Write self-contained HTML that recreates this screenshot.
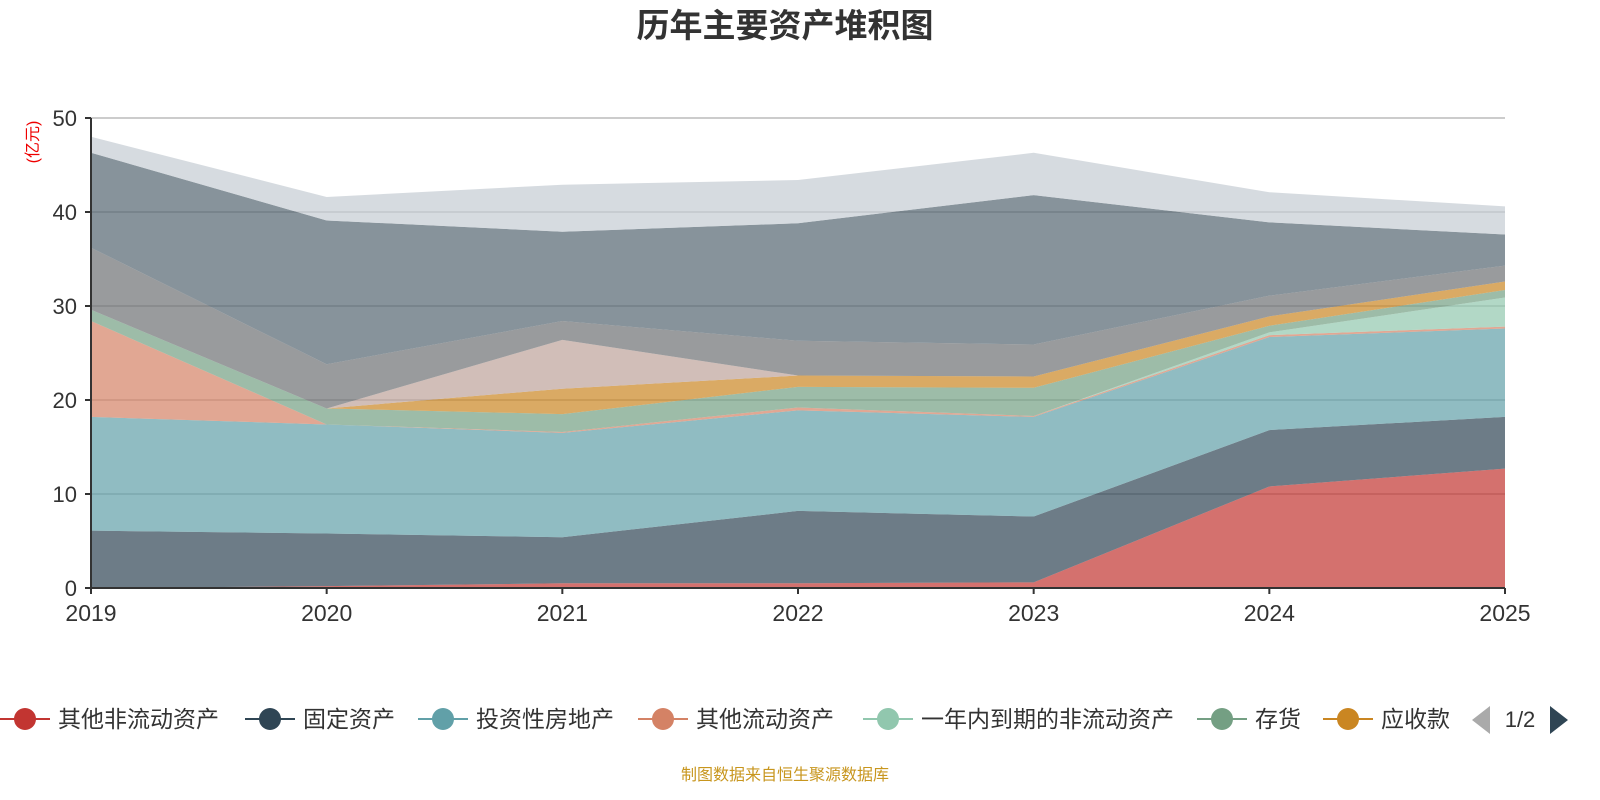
<!DOCTYPE html>
<html><head><meta charset="utf-8"><style>
html,body{margin:0;padding:0;background:#fff;width:1600px;height:800px;overflow:hidden}
svg text{font-family:"Liberation Sans","Noto Sans CJK SC",sans-serif}
</style></head><body>
<svg id="chart" width="1600" height="800">
<text x="785" y="37" text-anchor="middle" font-size="33" font-weight="bold" fill="#333">历年主要资产堆积图</text>
<text x="0" y="0" transform="translate(38,142) rotate(-90)" text-anchor="middle" font-size="16" fill="#e00">(亿元)</text>
<g id="grid"></g>
<g id="areas"></g>
<g id="axes"></g>
<g id="legend"></g>
<text x="785" y="780" text-anchor="middle" font-size="16" fill="#c8961e">制图数据来自恒生聚源数据库</text>
</svg>
<script>
const years=["2019","2020","2021","2022","2023","2024","2025"];
const yTicks=[0,10,20,30,40,50];
const seriesNames=["其他非流动资产","固定资产","投资性房地产","其他流动资产","一年内到期的非流动资产","存货","应收款","其他资产A","其他资产B","其他资产C","其他资产D"];
const s0=[0,0.2,0.5,0.5,0.6,10.8,12.7];
const s1=[6.1,5.6,4.9,7.7,7.0,6.0,5.5];
const s2=[12.1,11.6,11.1,10.7,10.6,9.9,9.4];
const s3=[10.2,0,0.1,0.3,0.1,0.2,0.2];
const s4=[0,0,0,0,0,0.3,3.1];
const s5=[1.2,1.7,1.9,2.2,3.0,0.7,0.8];
const s6=[0,0,2.7,1.2,1.2,1.0,0.9];
const s7=[0,0,5.2,0,0,0,0];
const s8=[6.6,4.7,2.0,3.7,3.4,2.2,1.7];
const s9=[10.1,15.3,9.5,12.5,15.9,7.8,3.3];
const s10=[1.7,2.5,5.0,4.6,4.5,3.2,3.0];
const series=[s0,s1,s2,s3,s4,s5,s6,s7,s8,s9,s10];
const colors=["#c23531","#2f4554","#61a0a8","#d48265","#91c7ae","#749f83","#ca8622","#bda29a","#6e7074","#546570","#c4ccd3"];
const NS="http://www.w3.org/2000/svg";
const x0=91,x1=1505,yB=588,yT=118,yMax=50;
const xs=i=>x0+(x1-x0)*i/(years.length-1);
const ys=v=>yB-(yB-yT)*v/yMax;
function mk(tag,attrs,parent){const e=document.createElementNS(NS,tag);for(const k in attrs)e.setAttribute(k,attrs[k]);parent.appendChild(e);return e;}
const grid=document.getElementById('grid'),areas=document.getElementById('areas'),axes=document.getElementById('axes'),legend=document.getElementById('legend');
yTicks.forEach(t=>{
  if(t>0){const l=mk('line',{x1:x0,x2:x1,y1:ys(t),y2:ys(t),stroke:'#ccc','stroke-width':2},grid);
  
  }
  const tk=mk('line',{x1:x0-6,x2:x0,y1:ys(t),y2:ys(t),stroke:'#333','stroke-width':2},axes);
  
  
  const tx=mk('text',{x:x0-14,y:ys(t)+8,'text-anchor':'end','font-size':22,fill:'#333'},axes);
  tx.textContent=t;
  
  
});
let cum=years.map(()=>0);
series.forEach((s,k)=>{
  const lo=cum.slice();const hi=cum.map((c,i)=>c+s[i]);cum=hi;
  let d='M'+hi.map((v,i)=>xs(i)+','+ys(v)).join('L');
  for(let i=years.length-1;i>=0;i--)d+='L'+xs(i)+','+ys(lo[i]);
  const p=mk('path',{d:d+'Z',fill:colors[k],'fill-opacity':0.7,stroke:'none'},areas);
  
  
});
const ax=mk('line',{x1:x0,x2:x0,y1:yT,y2:yB,stroke:'#333','stroke-width':2},axes);


const bx=mk('line',{x1:x0,x2:x1,y1:yB,y2:yB,stroke:'#333','stroke-width':2},axes);


years.forEach((y,i)=>{
  const tk=mk('line',{x1:xs(i),x2:xs(i),y1:yB,y2:yB+6,stroke:'#333','stroke-width':2},axes);
  
  
  const tx=mk('text',{x:xs(i),y:621,'text-anchor':'middle','font-size':23,fill:'#333'},axes);
  tx.textContent=y;
  
  
});
const legX=[0,245,418,638,863,1197,1323];
legX.forEach((lx,k)=>{
  const g=mk('g',{},legend);
  
  
  mk('line',{x1:lx,x2:lx+50,y1:719,y2:719,stroke:colors[k],'stroke-width':2},g);
  mk('circle',{cx:lx+25,cy:719,r:11,fill:colors[k]},g);
  const t=mk('text',{x:lx+58,y:727,'font-size':23,fill:'#333'},g);
  t.textContent=seriesNames[k];
});
const pl=mk('path',{d:'M1490,706 L1472,720 L1490,734Z',fill:'#aaa'},legend);


const pt=mk('text',{x:1520,y:727,'text-anchor':'middle','font-size':22,fill:'#333'},legend);
pt.textContent='1/2';


const pr=mk('path',{d:'M1550,706 L1568,720 L1550,734Z',fill:'#2f4554'},legend);


</script>
</body></html>
